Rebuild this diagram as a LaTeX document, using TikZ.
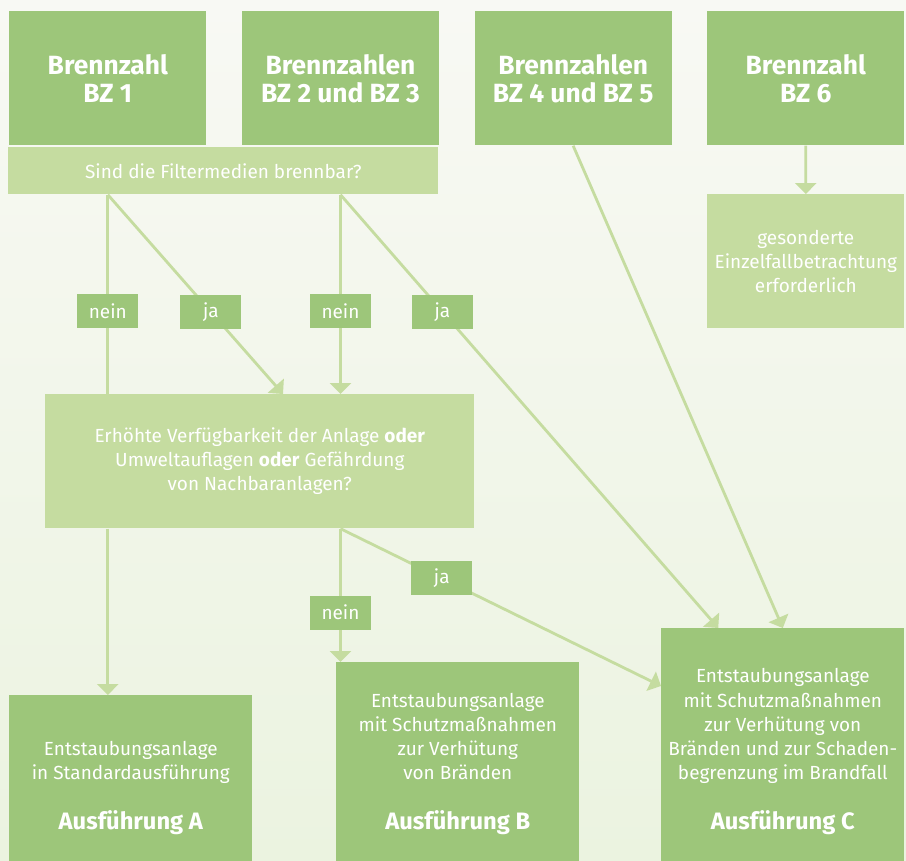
\documentclass[tikz,border=0pt]{standalone}
\usepackage{fontspec}
\setmainfont{Fira Sans}
\usepackage{tikz}
\usetikzlibrary{arrows.meta, positioning, calc}

\definecolor{gruen}{RGB}{157,198,122}
\definecolor{hellgruen}{RGB}{197,220,160}
\definecolor{grundoben}{RGB}{248,249,244}
\definecolor{grundunten}{RGB}{235,243,224}

\begin{document}
\begin{tikzpicture}[
        x=0.02cm, y=-0.02cm,
        node distance=0.7cm and 0.7cm,
        bz/.style={rectangle, fill=gruen, text=white, anchor=north west, minimum width=3.94cm, minimum height=2.68cm, align=center, font=\fontsize{15}{15.9}\selectfont\bfseries},
        frage/.style={rectangle, fill=hellgruen, text=white, anchor=north west, align=center, font=\fontsize{10.8}{13.7}\selectfont},
        ergebnis/.style={rectangle, fill=gruen, text=white, anchor=north west, minimum width=4.86cm, align=center, font=\fontsize{10.8}{13.7}\selectfont},
        antwort/.style={rectangle, fill=gruen, text=white, minimum width=1.22cm, minimum height=0.68cm, inner sep=0pt, font=\fontsize{10.8}{13.7}\selectfont},
        linie/.style={draw=hellgruen, line width=1.6pt},
        pfeil/.style={linie, -{Triangle[width=0.42cm, length=0.22cm]}}
    ]
        \clip (0,0) rectangle (906,860);
        \shade[top color=grundoben, bottom color=grundunten] (0,0) rectangle (906,860);

        % Brennzahlen
        \node[bz] (bz1) at (9,11) {Brennzahl\\BZ 1};
        \node[bz, right=of bz1] (bz23) {Brennzahlen\\BZ 2 und BZ 3};
        \node[bz, right=of bz23] (bz45) {Brennzahlen\\BZ 4 und BZ 5};
        \node[bz, right=of bz45] (bz6) {Brennzahl\\BZ 6};

        % Fragen
        \node[frage, minimum width=8.6cm, minimum height=0.94cm] (filter) at (8,147) {Sind die Filtermedien brennbar?};
        \node[frage, minimum width=3.94cm, minimum height=2.68cm] (einzel) at (707,194) {gesonderte\\Einzelfallbetrachtung\\erforderlich};
        \node[frage, minimum width=8.58cm, minimum height=2.68cm] (pruef) at (45,394) {Erhöhte Verfügbarkeit der Anlage \textbf{oder}\\Umweltauflagen \textbf{oder} Gefährdung\\von Nachbaranlagen?};

        % Ausfuehrungen
        \node[ergebnis, minimum height=3.7cm] (ausfA) at (9,695) {Entstaubungsanlage\\in Standardausführung\\[15pt]{\fontsize{13.5}{14}\selectfont\bfseries Ausführung A}};
        \node[ergebnis, minimum height=4.06cm] (ausfB) at (336,662) {Entstaubungsanlage\\mit Schutzmaßnahmen\\zur Verhütung\\von Bränden\\[15pt]{\fontsize{13.5}{14}\selectfont\bfseries Ausführung B}};
        \node[ergebnis, minimum height=4.94cm] (ausfC) at (661,628) {Entstaubungsanlage\\mit Schutzmaßnahmen\\zur Verhütung von\\Bränden und zur Schaden-\\begrenzung im Brandfall\\[15pt]{\fontsize{13.5}{14}\selectfont\bfseries Ausführung C}};

        % Verbindungen
        \draw[linie] (filter.south -| bz1) -- node[antwort, pos=0.585] (nein1) {nein} (pruef.north -| bz1);
        \draw[pfeil] (filter.south -| bz1) -- node[antwort, pos=0.588] (ja1) {ja} ($(pruef.north west)+(238,0)$);
        \draw[pfeil] (filter.south -| bz23) -- node[antwort, pos=0.585] (nein2) {nein} (pruef.north -| bz23);
        \draw[pfeil] (filter.south -| bz23) -- node[antwort, pos=0.27] (ja2) {ja} ($(ausfC.north west)!0.235!(ausfC.north east)$);
        \draw[pfeil] (bz45.south) -- (ausfC.north);
        \draw[pfeil] (bz6.south) -- (einzel.north);
        \draw[pfeil] (pruef.south -| bz1) -- (ausfA.north -| bz1);
        \draw[pfeil] (pruef.south -| bz23) -- node[antwort, pos=0.63] (nein3) {nein} (ausfB.north -| bz23);
        \draw[pfeil] (pruef.south -| bz23) -- node[antwort, pos=0.316] (ja3) {ja} ($(ausfC.north west)+(0,58)$);
    \end{tikzpicture}
\end{document}
